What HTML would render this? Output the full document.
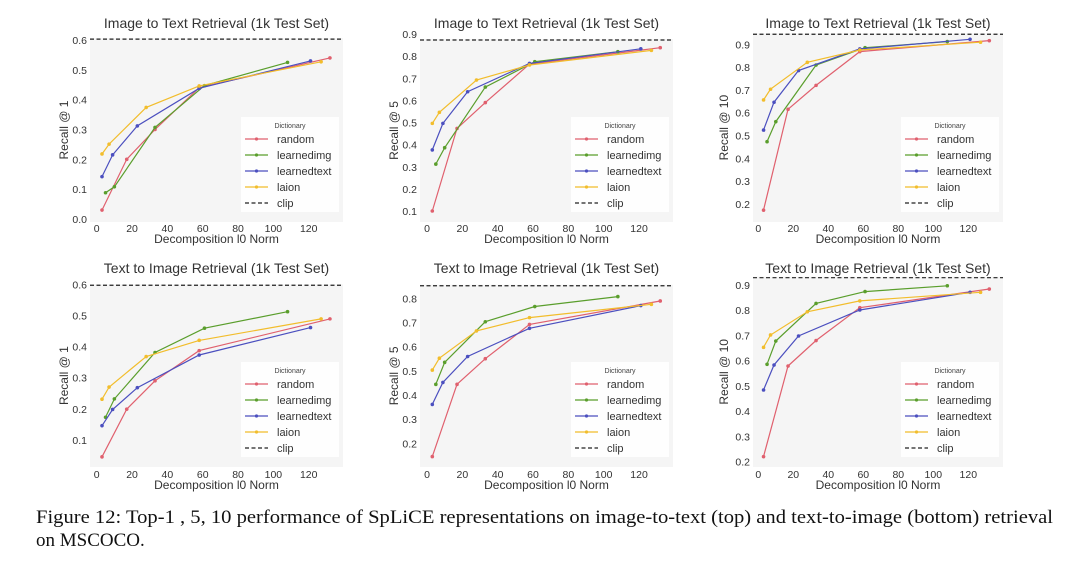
<!DOCTYPE html>
<html><head><meta charset="utf-8"><style>
body{margin:0;background:#fff;width:1080px;height:569px;overflow:hidden}
svg{display:block}
</style></head><body>
<svg id="fig" width="1080" height="569" viewBox="0 0 1080 569" xmlns="http://www.w3.org/2000/svg" font-family="Liberation Sans, sans-serif">
<text x="36" y="523" font-family="Liberation Serif, serif" font-size="19" fill="#111" textLength="1017" lengthAdjust="spacingAndGlyphs">Figure 12: Top-1 , 5, 10 performance of SpLiCE representations on image-to-text (top) and text-to-image (bottom) retrieval</text>
<text x="36" y="546" font-family="Liberation Serif, serif" font-size="19" fill="#111">on MSCOCO.</text>
</svg>
<script>
const seriesNames = ['random','learnedimg','learnedtext','laion'];
const xRandom = [3,17,33,58,132];
const xImg = [5,10,33,61,108];
const xText = [3,9,23,58,121];
const xLaion = [3,7,28,58,127];
const xTicks = [0,20,40,60,80,100,120];

const c1Random = [0.03,0.20,0.30,0.44,0.54];
const c1Img = [0.088,0.108,0.307,0.447,0.525];
const c1Text = [0.142,0.215,0.312,0.438,0.53];
const c1Laion = [0.218,0.251,0.374,0.446,0.527];
const c1Clip = 0.603;
const c1Ticks = [0.0,0.1,0.2,0.3,0.4,0.5,0.6];

const c2Random = [0.10,0.473,0.59,0.764,0.838];
const c2Img = [0.312,0.386,0.66,0.775,0.82];
const c2Text = [0.376,0.496,0.639,0.767,0.833];
const c2Laion = [0.496,0.546,0.692,0.76,0.826];
const c2Clip = 0.873;
const c2Ticks = [0.1,0.2,0.3,0.4,0.5,0.6,0.7,0.8,0.9];

const c3Random = [0.173,0.615,0.72,0.868,0.916];
const c3Img = [0.473,0.561,0.809,0.885,0.912];
const c3Text = [0.524,0.646,0.785,0.88,0.922];
const c3Laion = [0.656,0.703,0.821,0.875,0.909];
const c3Clip = 0.944;
const c3Ticks = [0.2,0.3,0.4,0.5,0.6,0.7,0.8,0.9];

const c4Random = [0.046,0.199,0.29,0.387,0.489];
const c4Img = [0.173,0.232,0.381,0.459,0.512];
const c4Text = [0.146,0.198,0.268,0.373,0.461];
const c4Laion = [0.231,0.27,0.368,0.42,0.489];
const c4Clip = 0.597;
const c4Ticks = [0.1,0.2,0.3,0.4,0.5,0.6];

const c5Random = [0.145,0.444,0.55,0.692,0.789];
const c5Img = [0.444,0.535,0.703,0.766,0.807];
const c5Text = [0.361,0.452,0.559,0.676,0.77];
const c5Laion = [0.503,0.552,0.665,0.72,0.775];
const c5Clip = 0.852;
const c5Ticks = [0.2,0.3,0.4,0.5,0.6,0.7,0.8];

const c6Random = [0.22,0.579,0.68,0.81,0.884];
const c6Img = [0.586,0.678,0.827,0.874,0.897];
const c6Text = [0.484,0.583,0.698,0.801,0.871];
const c6Laion = [0.653,0.702,0.794,0.837,0.871];
const c6Clip = 0.929;
const c6Ticks = [0.2,0.3,0.4,0.5,0.6,0.7,0.8,0.9];

const colors = ['#e0606e','#5a9e2c','#4b4fbf','#f2bd2c'];
const NS = 'http://www.w3.org/2000/svg';
const svg = document.getElementById('fig');
function mk(tag, attrs, parent){const e=document.createElementNS(NS,tag);for(const k in attrs)e.setAttribute(k,attrs[k]);(parent||svg).appendChild(e);return e;}

const layouts = [
 {id:'c1',title:'Image to Text Retrieval (1k Test Set)',ylab:'Recall @ 1',x0:96.7,xs:1.767,va:0,pa:219,vb:0.6,pb:40,L:90,R:343,B:222,ty:23,xl:239,tk:228,ylx:64,data:[c1Random,c1Img,c1Text,c1Laion],clip:c1Clip,ticks:c1Ticks,fmt:1},
 {id:'c2',title:'Image to Text Retrieval (1k Test Set)',ylab:'Recall @ 5',x0:427,xs:1.767,va:0.1,pa:211,vb:0.9,pb:34,L:420,R:673,B:222,ty:23,xl:239,tk:228,ylx:394,data:[c2Random,c2Img,c2Text,c2Laion],clip:c2Clip,ticks:c2Ticks,fmt:1},
 {id:'c3',title:'Image to Text Retrieval (1k Test Set)',ylab:'Recall @ 10',x0:758.3,xs:1.75,va:0.2,pa:204,vb:0.9,pb:44.3,L:753,R:1003,B:222,ty:23,xl:239,tk:228,ylx:724,data:[c3Random,c3Img,c3Text,c3Laion],clip:c3Clip,ticks:c3Ticks,fmt:1},
 {id:'c4',title:'Text to Image Retrieval (1k Test Set)',ylab:'Recall @ 1',x0:96.7,xs:1.767,va:0.1,pa:440,vb:0.6,pb:284.3,L:90,R:343,B:467,ty:268,xl:485,tk:474,ylx:64,data:[c4Random,c4Img,c4Text,c4Laion],clip:c4Clip,ticks:c4Ticks,fmt:1},
 {id:'c5',title:'Text to Image Retrieval (1k Test Set)',ylab:'Recall @ 5',x0:427,xs:1.767,va:0.2,pa:443.3,vb:0.8,pb:298.3,L:420,R:673,B:467,ty:268,xl:485,tk:474,ylx:394,data:[c5Random,c5Img,c5Text,c5Laion],clip:c5Clip,ticks:c5Ticks,fmt:1},
 {id:'c6',title:'Text to Image Retrieval (1k Test Set)',ylab:'Recall @ 10',x0:758.3,xs:1.75,va:0.2,pa:461.7,vb:0.9,pb:285,L:753,R:1003,B:467,ty:268,xl:485,tk:474,ylx:724,data:[c6Random,c6Img,c6Text,c6Laion],clip:c6Clip,ticks:c6Ticks,fmt:1}
];
const xsets = [xRandom,xImg,xText,xLaion];

layouts.forEach(c=>{
  const g = mk('g',{});
  
  
  const X = v => c.x0 + v*c.xs;
  const Y = v => c.pa + (v - c.va)*(c.pb - c.pa)/(c.vb - c.va);
  const top = Y(c.clip) - 1;
  const bg = mk('rect',{x:c.L,y:top,width:c.R-c.L,height:c.B-top,fill:'#f5f5f5'},g);
  
  
  const t = mk('text',{x:(c.L+c.R)/2,y:c.ty+5,'text-anchor':'middle','font-size':14,fill:'#333'},g);
  
  
  t.textContent = c.title;
  const xl = mk('text',{x:(c.L+c.R)/2,y:c.xl+4,'text-anchor':'middle','font-size':12,fill:'#333'},g);
  
  
  xl.textContent = 'Decomposition l0 Norm';
  const yc = (top + c.B)/2;
  const yl = mk('text',{x:c.ylx,y:yc,'text-anchor':'middle','font-size':12,fill:'#333',transform:`rotate(-90 ${c.ylx} ${yc})`,dy:4},g);
  
  
  yl.textContent = c.ylab;
  xTicks.forEach(v=>{
    const e = mk('text',{x:X(v),y:c.tk+4,'text-anchor':'middle','font-size':10.5,fill:'#333'},g);
    
    
    e.textContent = v;
  });
  c.ticks.forEach(v=>{
    const e = mk('text',{x:c.L-3,y:Y(v)+4,'text-anchor':'end','font-size':10.5,fill:'#333'},g);
    
    
    e.textContent = v.toFixed(c.fmt);
  });
  const cl = mk('line',{x1:c.L,x2:c.R,y1:Y(c.clip),y2:Y(c.clip),stroke:'#222','stroke-width':1.2,'stroke-dasharray':'4 2.5'},g);
  
  
  c.data.forEach((ys,i)=>{
    const xs = xsets[i];
    const pts = ys.map((v,j)=>X(xs[j]).toFixed(1)+','+Y(v).toFixed(1)).join(' ');
    const pl = mk('polyline',{points:pts,fill:'none',stroke:colors[i],'stroke-width':1.2},g);
    
    
    ys.forEach((v,j)=>{
      const p = mk('circle',{cx:X(xs[j]),cy:Y(v),r:1.8,fill:colors[i]},g);
      
      
    });
  });
  const lg = mk('g',{},g);
  
  
  const lx = c.R - 102, ly = c.B - 105;
  mk('rect',{x:lx,y:ly,width:98,height:95,fill:'#fff',opacity:0.85},lg);
  const lt = mk('text',{x:lx+49,y:ly+11,'text-anchor':'middle','font-size':7,fill:'#444'},lg);
  lt.textContent = 'Dictionary';
  const names = seriesNames.concat(['clip']);
  names.forEach((n,i)=>{
    const yy = ly + 22 + i*16;
    const e = mk('g',{},lg);
    
    
    if(i<4){
      mk('line',{x1:lx+4,x2:lx+27,y1:yy,y2:yy,stroke:colors[i],'stroke-width':1.2},e);
      mk('circle',{cx:lx+15.5,cy:yy,r:1.6,fill:colors[i]},e);
    } else {
      mk('line',{x1:lx+4,x2:lx+27,y1:yy,y2:yy,stroke:'#222','stroke-width':1.2,'stroke-dasharray':'4 2.5'},e);
    }
    const tx = mk('text',{x:lx+36,y:yy+4,'font-size':11,fill:'#333'},e);
    tx.textContent = n;
  });
});
</script>
</body></html>
